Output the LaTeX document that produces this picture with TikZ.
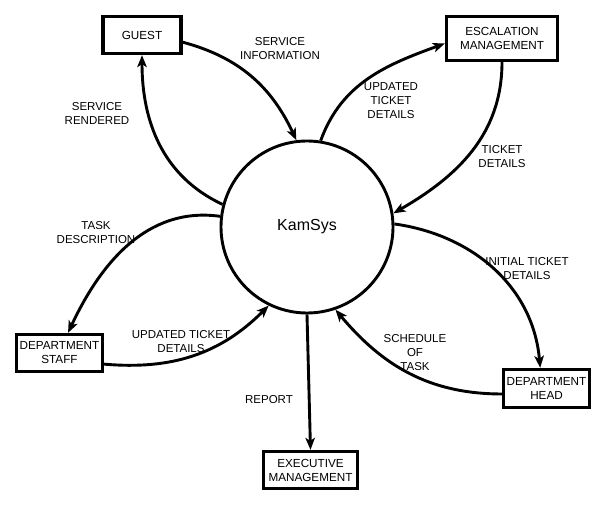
\documentclass[tikz,border=0pt]{standalone}
\usepackage{fontspec}
\setmainfont{Liberation Sans}
\usetikzlibrary{arrows.meta}

\begin{document}
\begin{tikzpicture}[x = 1pt, y = -1pt,
	entity/.style = {draw, line width = 3.3pt, align = center, inner sep = 2pt, font = \fontsize{11.7}{14}\selectfont},
	flow/.style = {line width = 2.9pt, -{Stealth[length = 12pt, width = 9.5pt, inset = 3pt]}},
	lbl/.style = {align = center, font = \fontsize{11.5}{14}\selectfont}]
	\useasboundingbox (0,0) rectangle (605,505);

	\node[circle, draw, line width = 2.9pt, minimum size = 172pt, font = \fontsize{16}{18}\selectfont] (kamsys) at (307,227) {KamSys};
	\node[entity, minimum width = 78pt, minimum height = 37pt] (guest) at (142,35) {GUEST};
	\node[entity, minimum width = 111pt, minimum height = 44pt] (escalation) at (502,38.5) {ESCALATION\\MANAGEMENT};
	\node[entity, minimum width = 86pt, minimum height = 37pt] (staff) at (59.5,353) {DEPARTMENT\\STAFF};
	\node[entity, minimum width = 86pt, minimum height = 38pt] (head) at (546.5,388.5) {DEPARTMENT\\HEAD};
	\node[entity, minimum width = 94pt, minimum height = 37pt] (exec) at (310.5,470) {EXECUTIVE\\MANAGEMENT};

	\draw[flow] (guest.-10) to[out = -15, in = 115] (kamsys.97);
	\draw[flow] (kamsys.165) to[out = 155, in = -90] (guest.south);
	\draw[flow] (kamsys.81) to[out = 70, in = 200] (escalation.185);
	\draw[flow] (escalation.south) to[out = -90, in = 30] (kamsys.9);
	\draw[flow] (kamsys.173) to[out = 172, in = 65] (staff.67);
	\draw[flow] (staff.-14) to[out = -5, in = 225] (kamsys.244);
	\draw[flow] (kamsys.2) to[out = -8, in = 95] (head.107);
	\draw[flow] (head.187) to[out = 180, in = -50] (kamsys.289);
	\draw[flow] (kamsys.south) -- (exec.north);

	\node[lbl] (servinfo) at (280,49) {SERVICE\\INFORMATION};
	\node[lbl] (servrend) at (97,113) {SERVICE\\RENDERED};
	\node[lbl] (updesc) at (391,101) {UPDATED\\TICKET\\DETAILS};
	\node[lbl] (tickdet) at (502,157) {TICKET\\DETAILS};
	\node[lbl] (taskdesc) at (96,233) {TASK\\DESCRIPTION};
	\node[lbl] (upstaff) at (181,342) {UPDATED TICKET\\DETAILS};
	\node[lbl] (initdet) at (527,269) {INITIAL TICKET\\DETAILS};
	\node[lbl] (schedule) at (415,353) {SCHEDULE\\OF\\TASK};
	\node[lbl] (report) at (269,400) {REPORT};
\end{tikzpicture}
\end{document}
